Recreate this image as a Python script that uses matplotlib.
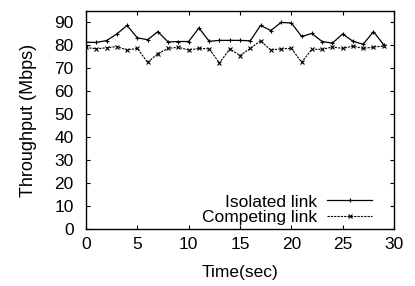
import matplotlib.pyplot as plt

plt.rcParams['font.family'] = ['Liberation Sans', 'DejaVu Sans']

# Throughput per second for each link
time_sec = list(range(30))
isolated = [81.4, 81.3, 82.1, 85.0, 88.7, 83.3, 82.5, 86.0, 81.5, 81.7,
            81.7, 87.6, 81.8, 82.2, 82.2, 82.2, 82.0, 88.7, 86.5, 90.0,
            89.8, 83.9, 85.2, 81.7, 81.0, 85.0, 81.8, 80.5, 86.0, 80.3]
competing = [79.1, 78.5, 79.0, 79.5, 78.0, 78.7, 72.6, 76.4, 78.7, 79.2,
             78.0, 78.7, 78.5, 72.3, 78.5, 75.6, 78.7, 82.0, 78.0, 78.5,
             78.7, 72.7, 78.3, 78.3, 79.3, 78.7, 79.7, 78.7, 79.3, 79.7]

fig = plt.figure(figsize=(4.15, 2.86), dpi=100)
ax = fig.add_axes([86 / 415, 1 - 229 / 286, (394 - 86) / 415, (229 - 11) / 286])

ax.plot(time_sec, isolated, color='black', linewidth=0.9, marker='+',
        markersize=3.5, markeredgewidth=0.8, label='Isolated link')
ax.plot(time_sec, competing, color='black', linewidth=0.8, linestyle=(0, (2, 1)),
        marker='x', markersize=3, markeredgewidth=0.8, label='Competing link')

ax.set_xlim(0, 30)
ax.set_ylim(0, 95)
ax.set_xticks(range(0, 31, 5))
ax.set_yticks(range(0, 91, 10))
ax.tick_params(direction='in', length=3, width=0.8, top=True, right=True,
               labelsize=12.5)
ax.tick_params(axis='y', pad=9)
ax.tick_params(axis='x', pad=6)
for s in ax.spines.values():
    s.set_linewidth(1.0)

ax.set_xlabel('Time(sec)', fontsize=12.5, labelpad=9)
ax.set_ylabel('Throughput (Mbps)', fontsize=13, labelpad=12)

leg = ax.legend(loc='lower right', bbox_to_anchor=(0.958, -0.02), frameon=False,
                fontsize=12.5, markerfirst=False, handlelength=2.6,
                handletextpad=0.6, labelspacing=0.0, borderpad=0)
for t in leg.get_texts():
    t.set_ha('right')
leg._legend_box.align = 'right'

fig.savefig('out.png', dpi=100)
